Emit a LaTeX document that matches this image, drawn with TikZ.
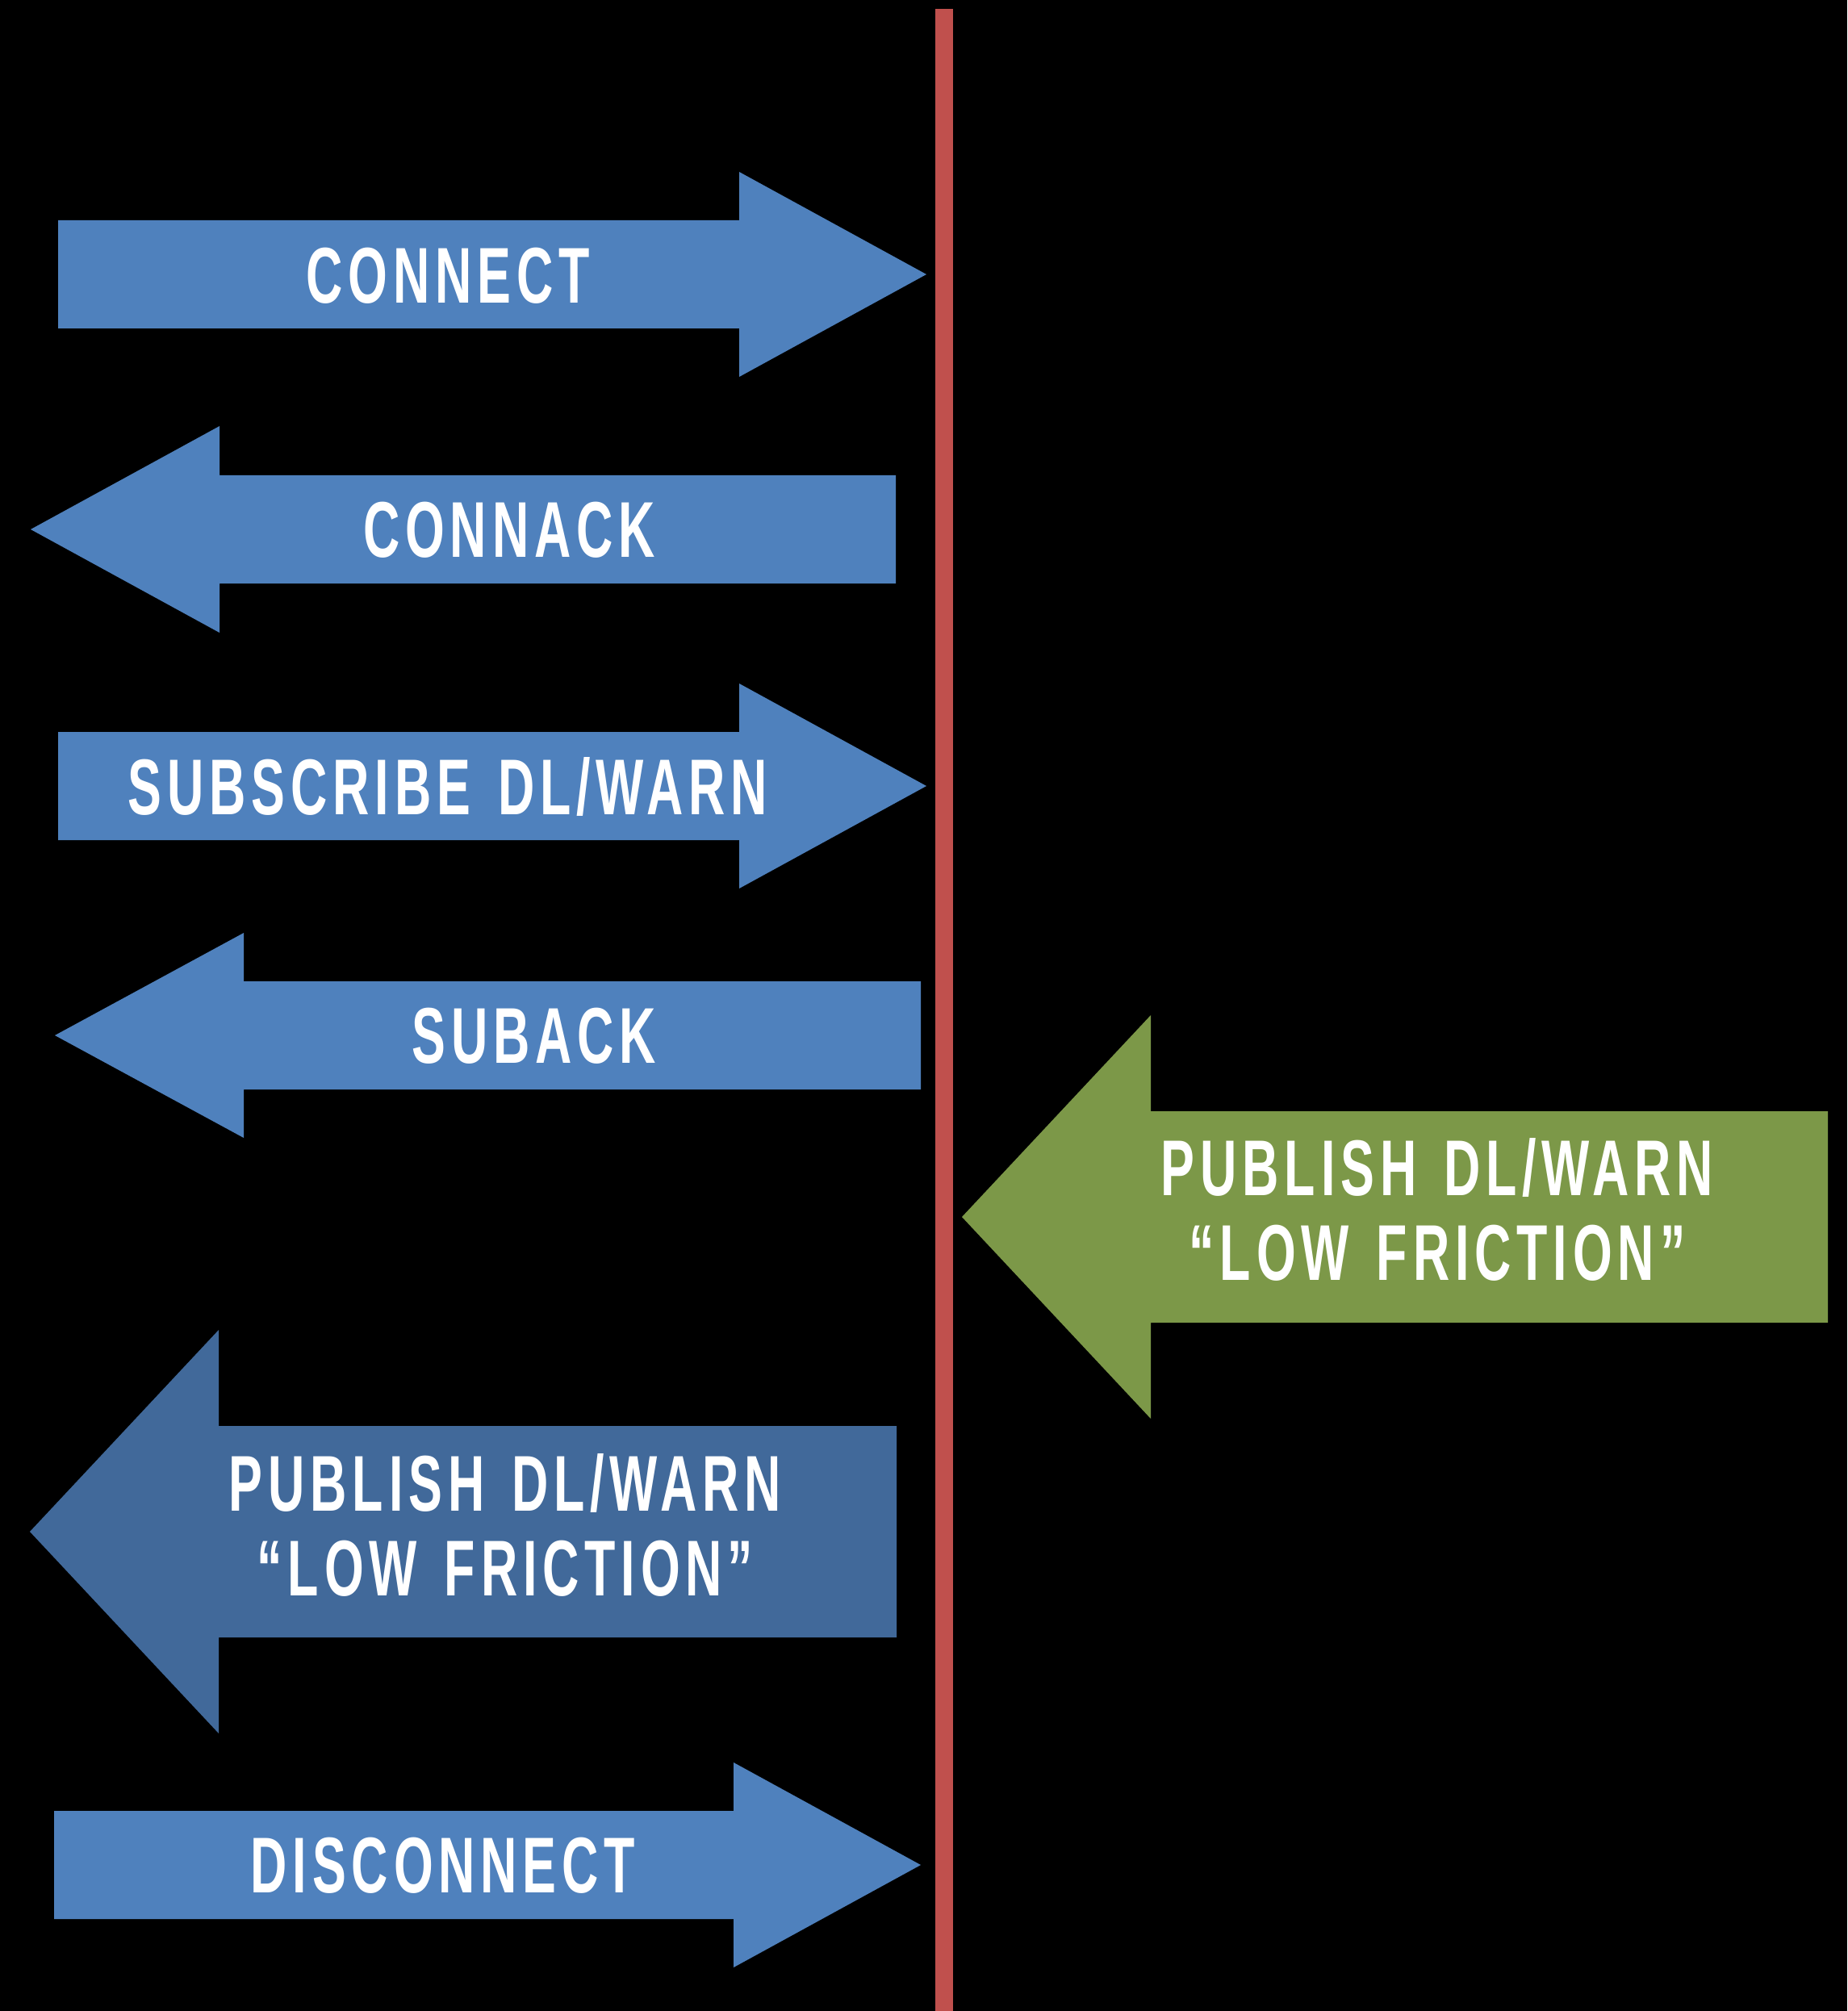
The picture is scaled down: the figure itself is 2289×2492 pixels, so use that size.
\documentclass[tikz,border=0pt]{standalone}
\usepackage{fontspec}
\setmainfont{Liberation Sans}[FakeStretch=0.64,LetterSpace=7,WordSpace=1.4]
\begin{document}
\definecolor{mblue}{HTML}{4F81BD}
\definecolor{mdark}{HTML}{41699A}
\definecolor{mgreen}{HTML}{7C9848}
\definecolor{mred}{HTML}{C0504D}
\tikzset{
  lbl/.style={text=white,align=center,font=\fontsize{49}{52.5}\selectfont\bfseries,inner sep=0pt},
}
% right/left block arrow: tail x, head-base x, tip x, centre y, body half-height, head half-height, colour
\newcommand{\rarrow}[7]{\fill[#7] (#1,#4-#5) -- (#2,#4-#5) -- (#2,#4-#6) -- (#3,#4) -- (#2,#4+#6) -- (#2,#4+#5) -- (#1,#4+#5) -- cycle;}
\begin{tikzpicture}[x=0.5pt,y=-0.5pt]
\fill[black] (0,0) rectangle (2289,2492);
\useasboundingbox (0,0) rectangle (2289,2492);
% red divider
\fill[mred] (1159,11) rectangle (1181,2492);
% CONNECT
\rarrow{72}{916}{1148}{340}{67}{127}{mblue}
\node[lbl] (connect) at (555,342) {CONNECT};
% CONNACK (left)
\rarrow{1110}{272}{38}{656}{67}{128}{mblue}
\node[lbl] (connack) at (631,657) {CONNACK};
% SUBSCRIBE
\rarrow{72}{916}{1148}{974}{67}{127}{mblue}
\node[lbl] (subscribe) at (555,975) {SUBSCRIBE DL/WARN};
% SUBACK
\rarrow{1141}{302}{68}{1283}{67}{127}{mblue}
\node[lbl] (suback) at (662,1284) {SUBACK};
% green publish
\rarrow{2265}{1426}{1192}{1508}{131}{250}{mgreen}
\node[lbl] (pubin) at (1781,1499) {PUBLISH DL/WARN\\``LOW FRICTION''};
% dark publish
\rarrow{1111}{271}{37}{1898}{131}{250}{mdark}
\node[lbl] (pubout) at (626,1890) {PUBLISH DL/WARN\\``LOW FRICTION''};
% DISCONNECT
\rarrow{67}{909}{1141}{2311}{67}{127}{mblue}
\node[lbl] (disconnect) at (549,2312) {DISCONNECT};
\end{tikzpicture}
\end{document}
